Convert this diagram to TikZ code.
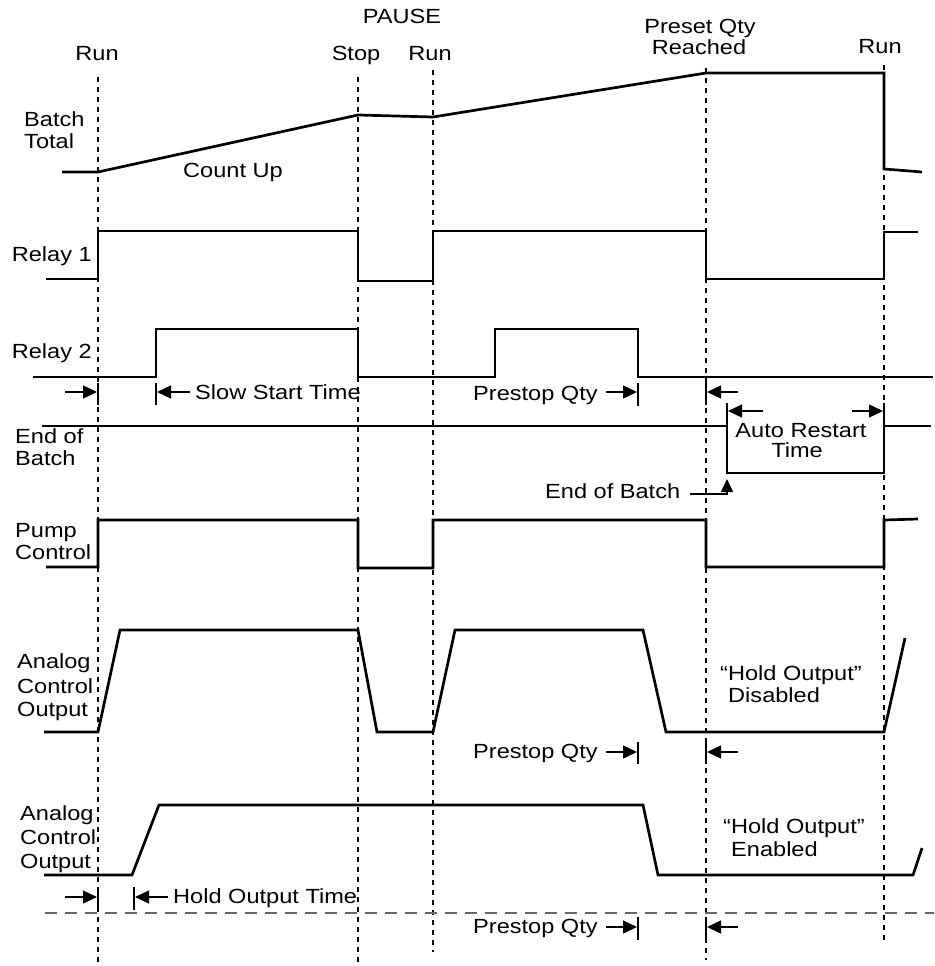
\documentclass[tikz,border=0pt]{standalone}
\usepackage{fontspec}
\setmainfont{Liberation Sans}[FakeStretch=1.15]
\usetikzlibrary{arrows.meta}
\begin{document}
\begin{tikzpicture}[x=1pt,y=-1pt,
  sig/.style={line width=2.7pt, line join=miter},
  vdash/.style={line width=1.3pt, dash pattern=on 5pt off 5pt},
  hdash/.style={draw=black!60, line width=1.3pt, dash pattern=on 12pt off 8pt},
  dim/.style={line width=1.4pt, -{Triangle[length=14pt,width=13pt]}},
  bar/.style={line width=1.4pt},
  lbl/.style={inner sep=0pt, font=\fontsize{20.5}{22}\selectfont}]
\useasboundingbox (0,0) rectangle (934,966);

% time markers
\draw[vdash] (98,77) -- (98,966);
\draw[vdash] (358,77) -- (358,963);
\draw[vdash] (433,70) -- (433,952);
\draw[vdash] (706,68) -- (706,960);
\draw[vdash] (884,65) -- (884,944);
\draw[hdash] (45,913) -- (934,913);

% top labels
\node[lbl, anchor=base] (pause) at (402,24) {PAUSE};
\node[lbl, anchor=base] (run1) at (97,61) {Run};
\node[lbl, anchor=base] (stop) at (356,61) {Stop};
\node[lbl, anchor=base] (run2) at (430,61) {Run};
\node[lbl, anchor=base] (preset) at (700,34) {Preset Qty};
\node[lbl, anchor=base] (reached) at (699,55) {Reached};
\node[lbl, anchor=base] (run3) at (880,54) {Run};

% row labels
\node[lbl, anchor=base west] (bt1) at (24,126) {Batch};
\node[lbl, anchor=base west] (bt2) at (24,148) {Total};
\node[lbl, anchor=base] (countup) at (233,177) {Count Up};
\node[lbl, anchor=base east] (r1) at (92,261) {Relay 1};
\node[lbl, anchor=base east] (r2) at (92,358) {Relay 2};
\node[lbl, anchor=base west] (eob1) at (15,443) {End of};
\node[lbl, anchor=base west] (eob2) at (15,465) {Batch};
\node[lbl, anchor=base west] (pc1) at (15,537) {Pump};
\node[lbl, anchor=base west] (pc2) at (15,559) {Control};
\node[lbl, anchor=base west] (a1a) at (17,668) {Analog};
\node[lbl, anchor=base west] (a1b) at (17,693) {Control};
\node[lbl, anchor=base west] (a1c) at (17,716) {Output};
\node[lbl, anchor=base west] (a2a) at (20,820) {Analog};
\node[lbl, anchor=base west] (a2b) at (20,844) {Control};
\node[lbl, anchor=base west] (a2c) at (20,868) {Output};

% annotations
\node[lbl, anchor=base west] (sst) at (195,399) {Slow Start Time};
\node[lbl, anchor=base west] (pq1) at (473,400) {Prestop Qty};
\node[lbl, anchor=base] (ar1) at (801,437) {Auto Restart};
\node[lbl, anchor=base] (ar2) at (797,457) {Time};
\node[lbl, anchor=base west] (eobn) at (545,498) {End of Batch};
\node[lbl, anchor=base west] (hd1) at (720,680) {“Hold Output”};
\node[lbl, anchor=base west] (hd2) at (728,702) {Disabled};
\node[lbl, anchor=base west] (pq2) at (473,758) {Prestop Qty};
\node[lbl, anchor=base west] (he1) at (723,833) {“Hold Output”};
\node[lbl, anchor=base west] (he2) at (731,856) {Enabled};
\node[lbl, anchor=base west] (hot) at (173,903) {Hold Output Time};
\node[lbl, anchor=base west] (pq3) at (473,933) {Prestop Qty};

% signals
\draw[sig] (62,172) -- (98,172) -- (358,115) -- (433,117) -- (706,73) -- (884,73) -- (884,169) -- (922,172);
\draw[sig] (46,279) -- (98,279) -- (98,231) -- (358,231) -- (358,281) -- (433,281) -- (433,231) -- (706,231) -- (706,279) -- (884,279) -- (884,232) -- (918,232);
\draw[sig] (33,377) -- (156,377) -- (156,329) -- (358,329) -- (358,377) -- (495,377) -- (495,329) -- (638,329) -- (638,377) -- (933,377);
\draw[sig] (42,426) -- (727,426) -- (727,473) -- (884,473) -- (884,426) -- (931,426);
\draw[sig] (46,567) -- (98,567) -- (98,520) -- (358,520) -- (358,568) -- (433,568) -- (433,520) -- (706,520) -- (706,567) -- (884,567) -- (884,520) -- (918,519);
\draw[sig] (44,732) -- (98,732) -- (120,630) -- (358,630) -- (377,732) -- (433,732) -- (455,630) -- (643,630) -- (666,732) -- (884,732) -- (905,638);
\draw[sig] (44,875) -- (132,875) -- (159,805) -- (643,805) -- (658,875) -- (913,875) -- (922,848);

% dimension markers: relay 2 row
\draw[dim] (65,392) -- (97,392);
\draw[bar] (98,383) -- (98,405);
\draw[bar] (156,383) -- (156,405);
\draw[dim] (190,392) -- (157,392);
\draw[dim] (606,392) -- (637,392);
\draw[bar] (638,383) -- (638,406);
\draw[bar] (706,383) -- (706,405);
\draw[dim] (738,392) -- (707,392);
% auto restart
\draw[bar] (727,403) -- (727,426);
\draw[dim] (763,411) -- (728,411);
\draw[dim] (852,411) -- (883,411);
\draw[bar] (884,403) -- (884,426);
% end of batch pointer
\coordinate (eobtip) at (727,479);
\draw[line width=1.4pt, -{Triangle[length=13pt,width=12pt]}] (690,494) -| (eobtip);
% analog 1 prestop
\draw[dim] (606,752) -- (637,752);
\draw[bar] (638,742) -- (638,764);
\draw[bar] (706,742) -- (706,764);
\draw[dim] (738,752) -- (707,752);
% hold output time
\draw[dim] (65,897) -- (97,897);
\draw[bar] (98,887) -- (98,910);
\draw[bar] (134,887) -- (134,910);
\draw[dim] (168,897) -- (135,897);
% analog 2 prestop
\draw[dim] (606,927) -- (637,927);
\draw[bar] (638,917) -- (638,940);
\draw[bar] (706,917) -- (706,940);
\draw[dim] (738,927) -- (707,927);
\end{tikzpicture}
\end{document}
